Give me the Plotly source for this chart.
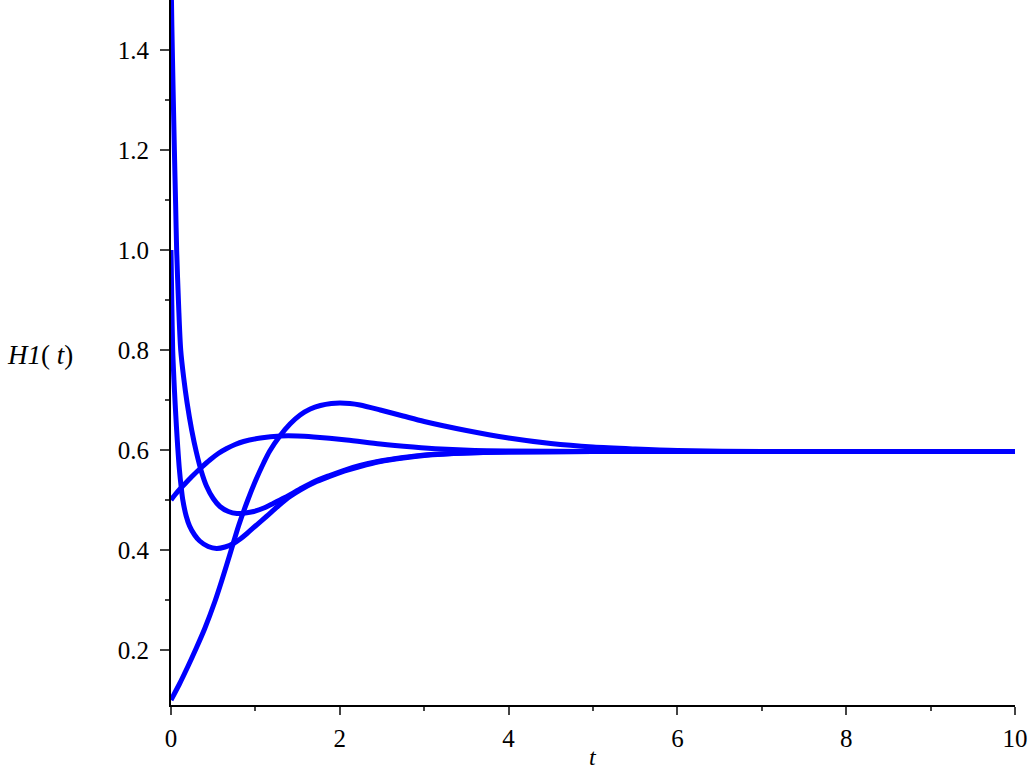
import plotly.graph_objects as go

# Curve starting at H=0.1
tA = [0, 0.1, 0.2, 0.3, 0.4, 0.52, 0.6, 0.71, 0.8, 0.91, 1.0, 1.1, 1.17, 1.29, 1.41, 1.53, 1.65, 1.77, 1.9, 2.0, 2.12, 2.24, 2.48, 2.75, 3.0, 3.5, 4.0, 4.5, 5.0, 5.5, 6.0, 7.0, 8.0, 9.0, 10.0]
hA = [0.1, 0.132, 0.167, 0.204, 0.243, 0.297, 0.338, 0.398, 0.448, 0.5, 0.538, 0.575, 0.598, 0.628, 0.652, 0.670, 0.682, 0.689, 0.693, 0.694, 0.693, 0.690, 0.680, 0.668, 0.657, 0.639, 0.624, 0.613, 0.606, 0.602, 0.599, 0.597, 0.597, 0.597, 0.597]

# Curve starting at H=0.5
tB = [0, 0.05, 0.107, 0.18, 0.26, 0.36, 0.46, 0.56, 0.66, 0.76, 0.86, 1.06, 1.3, 1.5, 1.69, 2.08, 2.48, 2.87, 3.2, 3.6, 4.0, 5.0, 6.0, 8.0, 10.0]
hB = [0.5, 0.511, 0.522, 0.535, 0.549, 0.565, 0.58, 0.593, 0.603, 0.611, 0.617, 0.624, 0.628, 0.628, 0.626, 0.62, 0.612, 0.606, 0.602, 0.599, 0.598, 0.597, 0.597, 0.597, 0.597]

# Curve starting at H=1.0
tC = [0, 0.01, 0.02, 0.035, 0.05, 0.065, 0.08, 0.1, 0.12, 0.14, 0.18, 0.22, 0.28, 0.34, 0.44, 0.54, 0.64, 0.74, 0.82, 0.9, 1.0, 1.13, 1.27, 1.41, 1.53, 1.7, 1.88, 2.06, 2.24, 2.48, 2.75, 3.0, 3.5, 4.0, 5.0, 6.0, 8.0, 10.0]
hC = [1.0, 0.89, 0.8, 0.74, 0.69, 0.645, 0.605, 0.56, 0.527, 0.5, 0.468, 0.448, 0.43, 0.418, 0.407, 0.403, 0.406, 0.413, 0.422, 0.433, 0.448, 0.467, 0.488, 0.507, 0.52, 0.535, 0.547, 0.558, 0.567, 0.577, 0.584, 0.589, 0.594, 0.596, 0.597, 0.597, 0.597, 0.597]

# Curve starting above the plotted range
tD = [0, 0.01, 0.025, 0.04, 0.055, 0.067, 0.09, 0.115, 0.15, 0.19, 0.245, 0.3, 0.36, 0.42, 0.5, 0.58, 0.68, 0.78, 0.88, 0.98, 1.1, 1.21, 1.35, 1.53, 1.7, 1.88, 2.06, 2.24, 2.48, 2.75, 3.0, 3.5, 4.0, 5.0, 6.0, 8.0, 10.0]
hD = [1.56, 1.45, 1.32, 1.2, 1.09, 1.0, 0.89, 0.8, 0.745, 0.695, 0.64, 0.596, 0.557, 0.528, 0.503, 0.487, 0.477, 0.473, 0.474, 0.477, 0.484, 0.493, 0.505, 0.522, 0.537, 0.549, 0.56, 0.569, 0.578, 0.585, 0.59, 0.594, 0.596, 0.597, 0.597, 0.597, 0.597]

x_ticks = [0, 2, 4, 6, 8, 10]
y_ticks = [0.2, 0.4, 0.6, 0.8, 1.0, 1.2, 1.4]
y_tick_text = ["0.2", "0.4", "0.6", "0.8", "1.0", "1.2", "1.4"]

FONT = "Liberation Serif, Times New Roman, serif"
BLUE = "#0000ff"

fig = go.Figure()
for t, h in [(tA, hA), (tB, hB), (tC, hC), (tD, hD)]:
    fig.add_trace(go.Scatter(x=t, y=h, mode="lines",
                             line=dict(color=BLUE, width=5, shape="spline", smoothing=0.8),
                             showlegend=False, hoverinfo="skip"))

fig.update_layout(
    width=1032, height=769,
    margin=dict(l=171, r=17, t=0, b=64),
    paper_bgcolor="white", plot_bgcolor="white",
    font=dict(family=FONT, size=25, color="black"),
    xaxis=dict(range=[0, 10], tickvals=x_ticks, showgrid=False, zeroline=False,
               showline=True, linecolor="black", linewidth=2,
               ticks="outside", ticklen=8, tickcolor="#444", tickwidth=1.5,
               minor=dict(tickvals=[1, 3, 5, 7, 9], ticks="outside", ticklen=4,
                          tickcolor="#444", tickwidth=1.5),
               tickfont=dict(family=FONT, size=25), ticklabelstandoff=2),
    yaxis=dict(range=[0.09, 1.5], tickvals=y_ticks, ticktext=y_tick_text,
               showgrid=False, zeroline=False,
               showline=True, linecolor="black", linewidth=2,
               ticks="outside", ticklen=9, tickcolor="#444", tickwidth=1.5,
               minor=dict(tickvals=[0.3, 0.5, 0.7, 0.9, 1.1, 1.3], ticks="outside",
                          ticklen=4, tickcolor="#444", tickwidth=1.5),
               tickfont=dict(family=FONT, size=25), ticklabelstandoff=6),
    annotations=[
        dict(text="<i>t</i>", xref="paper", yref="paper", x=0.5, y=-0.074,
             xanchor="center", yanchor="middle", showarrow=False,
             font=dict(family=FONT, size=24)),
        dict(text="<i>H1</i>( <i>t</i>)", xref="paper", yref="paper",
             x=-0.197, y=0.4965, xanchor="left", yanchor="middle", showarrow=False,
             font=dict(family=FONT, size=27)),
    ],
)

fig.write_html("out.html", config={"displayModeBar": False},
               post_script="document.body.style.margin='0';document.body.style.padding='0';")
